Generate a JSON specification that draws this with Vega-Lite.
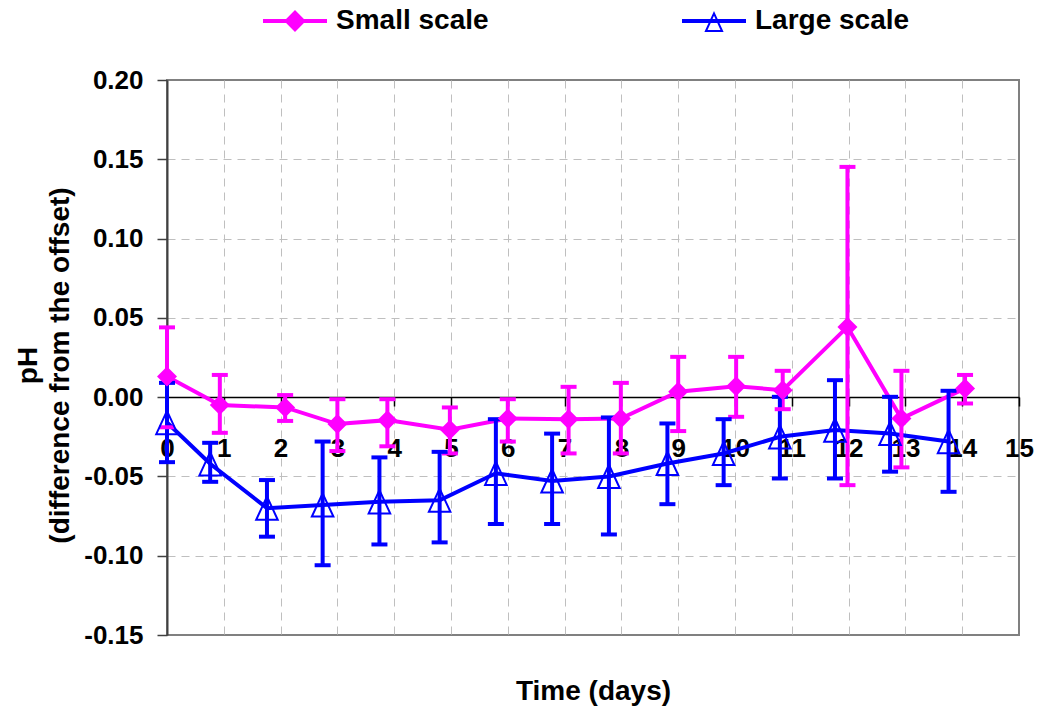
{
  "$schema": "https://vega.github.io/schema/vega-lite/v6.json",
  "width": 852,
  "height": 555,
  "autosize": "none",
  "padding": {"left": 167, "top": 80, "right": 18, "bottom": 73},
  "background": "white",
  "config": {
    "font": "Liberation Sans",
    "view": {"stroke": "#808080", "strokeWidth": 2},
    "axisY": {
      "labelExpr": "replace(format(datum.value, '.2f'), '\u2212', '-')",
      "domainColor": "#404040",
      "domainWidth": 2,
      "tickColor": "#404040",
      "tickSize": 10,
      "tickWidth": 1.5,
      "labelFont": "Liberation Sans",
      "labelFontSize": 26,
      "labelFontWeight": "bold",
      "labelColor": "black",
      "labelPadding": 14,
      "grid": true,
      "gridColor": {"condition": {"test": "datum.value < -0.14 || datum.value > 0.19 || datum.value === 0", "value": "transparent"}, "value": "#bfbfbf"},
      "gridDash": [8, 6],
      "gridWidth": 1,
      "titleFont": "Liberation Sans",
      "titleFontSize": 28,
      "titleFontWeight": "bold",
      "titleColor": "black",
      "titleLineHeight": 32,
      "titleBaseline": "alphabetic",
      "titleAngle": -90,
      "titleX": -131,
      "titleY": 285
    }
  },
  "data": {
    "values": [
      {"series": "Small scale", "day": 0.0, "ph": 0.013, "lo": -0.019, "hi": 0.044},
      {"series": "Small scale", "day": 0.93, "ph": -0.005, "lo": -0.0225, "hi": 0.014},
      {"series": "Small scale", "day": 2.08, "ph": -0.0065, "lo": -0.015, "hi": 0.0013},
      {"series": "Small scale", "day": 3.0, "ph": -0.017, "lo": -0.034, "hi": -0.0013},
      {"series": "Small scale", "day": 3.88, "ph": -0.0145, "lo": -0.031, "hi": -0.0013},
      {"series": "Small scale", "day": 4.98, "ph": -0.0205, "lo": -0.0355, "hi": -0.0065},
      {"series": "Small scale", "day": 6.0, "ph": -0.0135, "lo": -0.028, "hi": -0.0013},
      {"series": "Small scale", "day": 7.07, "ph": -0.014, "lo": -0.0355, "hi": 0.0065},
      {"series": "Small scale", "day": 7.99, "ph": -0.0135, "lo": -0.0355, "hi": 0.009},
      {"series": "Small scale", "day": 9.0, "ph": 0.0034, "lo": -0.0214, "hi": 0.0254},
      {"series": "Small scale", "day": 10.02, "ph": 0.0069, "lo": -0.0124, "hi": 0.0254},
      {"series": "Small scale", "day": 10.84, "ph": 0.0044, "lo": -0.0076, "hi": 0.0166},
      {"series": "Small scale", "day": 11.98, "ph": 0.0443, "lo": -0.0555, "hi": 0.1452},
      {"series": "Small scale", "day": 12.93, "ph": -0.0135, "lo": -0.0443, "hi": 0.0166},
      {"series": "Small scale", "day": 14.05, "ph": 0.0055, "lo": -0.004, "hi": 0.014},
      {"series": "Large scale", "day": 0.0, "ph": -0.016, "lo": -0.041, "hi": 0.009},
      {"series": "Large scale", "day": 0.76, "ph": -0.042, "lo": -0.0534, "hi": -0.0288},
      {"series": "Large scale", "day": 1.76, "ph": -0.07, "lo": -0.088, "hi": -0.0523},
      {"series": "Large scale", "day": 2.74, "ph": -0.068, "lo": -0.106, "hi": -0.028},
      {"series": "Large scale", "day": 3.74, "ph": -0.066, "lo": -0.0929, "hi": -0.038},
      {"series": "Large scale", "day": 4.8, "ph": -0.065, "lo": -0.0916, "hi": -0.0345},
      {"series": "Large scale", "day": 5.79, "ph": -0.048, "lo": -0.08, "hi": -0.0139},
      {"series": "Large scale", "day": 6.78, "ph": -0.0528, "lo": -0.08, "hi": -0.023},
      {"series": "Large scale", "day": 7.78, "ph": -0.05, "lo": -0.0866, "hi": -0.0128},
      {"series": "Large scale", "day": 8.81, "ph": -0.0418, "lo": -0.0675, "hi": -0.0166},
      {"series": "Large scale", "day": 9.8, "ph": -0.0355, "lo": -0.0555, "hi": -0.0139},
      {"series": "Large scale", "day": 10.79, "ph": -0.025, "lo": -0.0513, "hi": 0.0002},
      {"series": "Large scale", "day": 11.76, "ph": -0.0208, "lo": -0.0513, "hi": 0.0107},
      {"series": "Large scale", "day": 12.73, "ph": -0.0229, "lo": -0.047, "hi": 0.0002},
      {"series": "Large scale", "day": 13.76, "ph": -0.028, "lo": -0.0597, "hi": 0.004}
    ]
  },
  "encoding": {
    "x": {
      "field": "day",
      "type": "quantitative",
      "scale": {"domain": [0, 15], "nice": false, "zero": false},
      "axis": {
        "title": "Time (days)",
        "values": [0, 1, 2, 3, 4, 5, 6, 7, 8, 9, 10, 11, 12, 13, 14, 15],
        "offset": -238,
        "domainColor": "black",
        "domainWidth": 1.5,
        "tickColor": "black",
        "tickSize": 9,
        "tickWidth": 1.5,
        "labelFont": "Liberation Sans",
        "labelFontSize": 26,
        "labelFontWeight": "bold",
        "labelColor": "black",
        "labelPadding": 29,
        "labelFlush": false,
        "labelOverlap": false,
        "grid": true,
        "gridColor": {"condition": {"test": "datum.value === 0 || datum.value === 15", "value": "transparent"}, "value": "#bfbfbf"},
        "gridDash": [8, 6],
        "gridWidth": 1,
        "titleFont": "Liberation Sans",
        "titleFontSize": 28,
        "titleFontWeight": "bold",
        "titleColor": "black",
        "titleBaseline": "alphabetic",
        "titleY": 302
      }
    },
    "y": {
      "field": "ph",
      "type": "quantitative",
      "scale": {"domain": [-0.15, 0.2], "nice": false, "zero": false},
      "axis": {"title": ["pH", "(difference from the offset)"], "values": [-0.15, -0.1, -0.05, 0, 0.05, 0.1, 0.15, 0.2]}
    },
    "color": {
      "field": "series",
      "type": "nominal",
      "scale": {"domain": ["Small scale", "Large scale"], "range": ["#FF00FF", "#0000FF"]},
      "legend": {
        "orient": "none",
        "legendX": 96,
        "legendY": -91,
        "direction": "horizontal",
        "title": null,
        "padding": 0,
        "labelFont": "Liberation Sans",
        "labelFontSize": 28,
        "labelFontWeight": "bold",
        "labelColor": "black",
        "labelOffset": 9,
        "columnPadding": 193,
        "symbolSize": 4096,
        "symbolStrokeWidth": 0,
        "symbolOpacity": 1,
        "encode": {
          "symbols": {
            "update": {
              "shape": {"signal": "datum.value === 'Small scale' ? 'M-1,-0.0625H1V0.0625H-1ZM0,-0.34L0.34,0L0,0.34L-0.34,0Z' : 'M-1,-0.0625H1V0.0625H-1ZM0,-0.31L0.3,0.34L-0.3,0.34ZM0,-0.161L-0.202,0.2775L0.202,0.2775Z'"},
              "fill": {"scale": "color", "field": "value"},
              "stroke": {"value": "transparent"},
              "strokeWidth": {"value": 0},
              "opacity": {"value": 1}
            }
          }
        }
      }
    }
  },
  "layer": [
    {
      "mark": {"type": "line", "strokeWidth": 4}
    },
    {
      "mark": {"type": "rule", "strokeWidth": 4},
      "encoding": {
        "y": {"field": "lo", "type": "quantitative", "scale": {"domain": [-0.15, 0.2], "nice": false, "zero": false}, "axis": {"title": ["pH", "(difference from the offset)"], "values": [-0.15, -0.1, -0.05, 0, 0.05, 0.1, 0.15, 0.2]}},
        "y2": {"field": "hi"}
      }
    },
    {
      "mark": {"type": "tick", "orient": "horizontal", "size": 16, "thickness": 4, "opacity": 1},
      "encoding": {
        "y": {"field": "lo", "type": "quantitative", "scale": {"domain": [-0.15, 0.2], "nice": false, "zero": false}, "axis": {"title": ["pH", "(difference from the offset)"], "values": [-0.15, -0.1, -0.05, 0, 0.05, 0.1, 0.15, 0.2]}}
      }
    },
    {
      "mark": {"type": "tick", "orient": "horizontal", "size": 16, "thickness": 4, "opacity": 1},
      "encoding": {
        "y": {"field": "hi", "type": "quantitative", "scale": {"domain": [-0.15, 0.2], "nice": false, "zero": false}, "axis": {"title": ["pH", "(difference from the offset)"], "values": [-0.15, -0.1, -0.05, 0, 0.05, 0.1, 0.15, 0.2]}}
      }
    },
    {
      "transform": [{"filter": "datum.series === 'Small scale'"}],
      "mark": {"type": "point", "shape": "diamond", "filled": true, "size": 400, "opacity": 1}
    },
    {
      "transform": [{"filter": "datum.series === 'Large scale'"}],
      "mark": {"type": "point", "shape": "M0,-0.95L0.88,0.95L-0.88,0.95Z", "filled": false, "size": 600, "strokeWidth": 2, "opacity": 1}
    }
  ]
}
